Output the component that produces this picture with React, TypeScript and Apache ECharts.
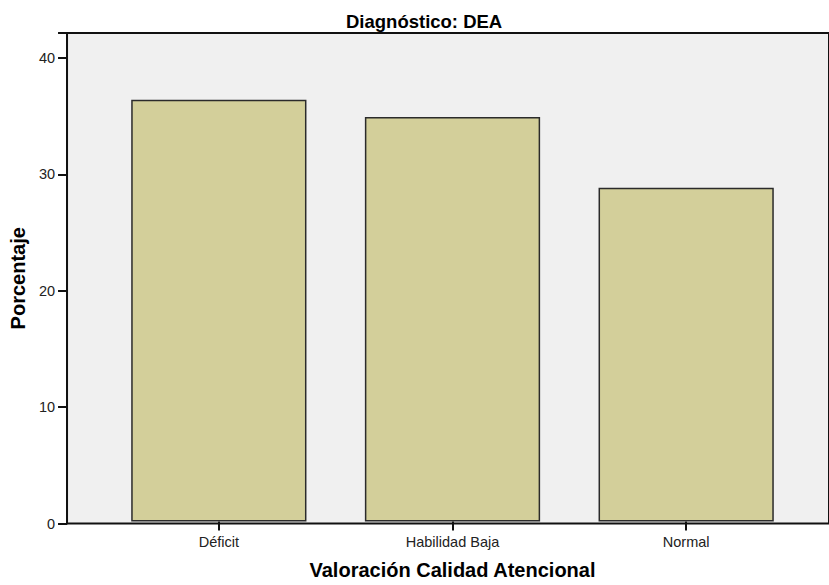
import React, { useEffect, useRef } from "react";
import * as echarts from "echarts";

const categories = ["Déficit", "Habilidad Baja", "Normal"];
const percentages = [36.4, 34.9, 28.8];
const yTicks = [0, 10, 20, 30, 40];
const yMax = 42.15;
const titleText = "Diagnóstico: DEA";
const xName = "Valoración Calidad Atencional";
const yName = "Porcentaje";

const FONT = "'Liberation Sans', Arial, sans-serif";

export default function App() {
  const ref = useRef<HTMLDivElement>(null);
  useEffect(() => {
    if (!ref.current) return;
    const chart = echarts.init(ref.current, null, { renderer: "svg" });
    chart.setOption({
      animation: false,
      backgroundColor: "#ffffff",
      textStyle: { fontFamily: FONT },
      title: {
        text: titleText,
        left: 346,
        top: 12,
        padding: 0,
        textStyle: { fontSize: 18.5, fontWeight: "bold", color: "#000", fontFamily: FONT },
      },
      grid: [
        {
          left: 63,
          top: 33,
          right: -40,
          bottom: 61.5,
          show: true,
          backgroundColor: "#f0f0f0",
          borderColor: "#111",
          borderWidth: 2,
          z: 0,
        },
        { left: 102, right: 26, top: 33, bottom: 61.5 },
      ],
      xAxis: [
        { gridIndex: 0, type: "value", min: 0, max: 1, show: false },
        {
          gridIndex: 1,
          type: "category",
          data: categories,
          axisLine: { show: false },
          axisTick: { show: true, alignWithLabel: true, length: 9, lineStyle: { color: "#111", width: 2 } },
          axisLabel: { fontSize: 14.5, color: "#222", margin: 13, fontFamily: FONT },
          splitLine: { show: false },
          name: xName,
          nameLocation: "middle",
          nameGap: 38.5,
          nameTextStyle: { fontSize: 20, fontWeight: "bold", color: "#000", fontFamily: FONT },
        },
      ],
      yAxis: [
        {
          gridIndex: 0,
          type: "value",
          min: 0,
          max: yMax,
          interval: 10,
          axisLine: { show: true, lineStyle: { color: "#111", width: 2 } },
          axisTick: { show: true, length: 9, lineStyle: { color: "#111", width: 2 } },
          axisLabel: {
            fontSize: 14.5,
            color: "#222",
            margin: 12,
            fontFamily: FONT,
            formatter: (v: number) => (yTicks.includes(v) ? String(v) : ""),
          },
          splitLine: { show: false },
          name: yName,
          nameLocation: "middle",
          nameGap: 26.5,
          nameTextStyle: { fontSize: 20, fontWeight: "bold", color: "#000", fontFamily: FONT },
        },
        { gridIndex: 1, type: "value", min: 0, max: yMax, interval: 10, show: false, splitLine: { show: false } },
      ],
      series: [
        {
          type: "bar",
          xAxisIndex: 1,
          yAxisIndex: 1,
          data: percentages,
          barWidth: "75%",
          itemStyle: { color: "#d3cf9a", borderColor: "#2b2b2b", borderWidth: 1.5 },
          z: 3,
        },
      ],
    });
    return () => chart.dispose();
  }, []);
  return (
    <div
      ref={ref}
      style={{ position: "absolute", left: 0, top: 0, width: 829, height: 585 }}
    />
  );
}
